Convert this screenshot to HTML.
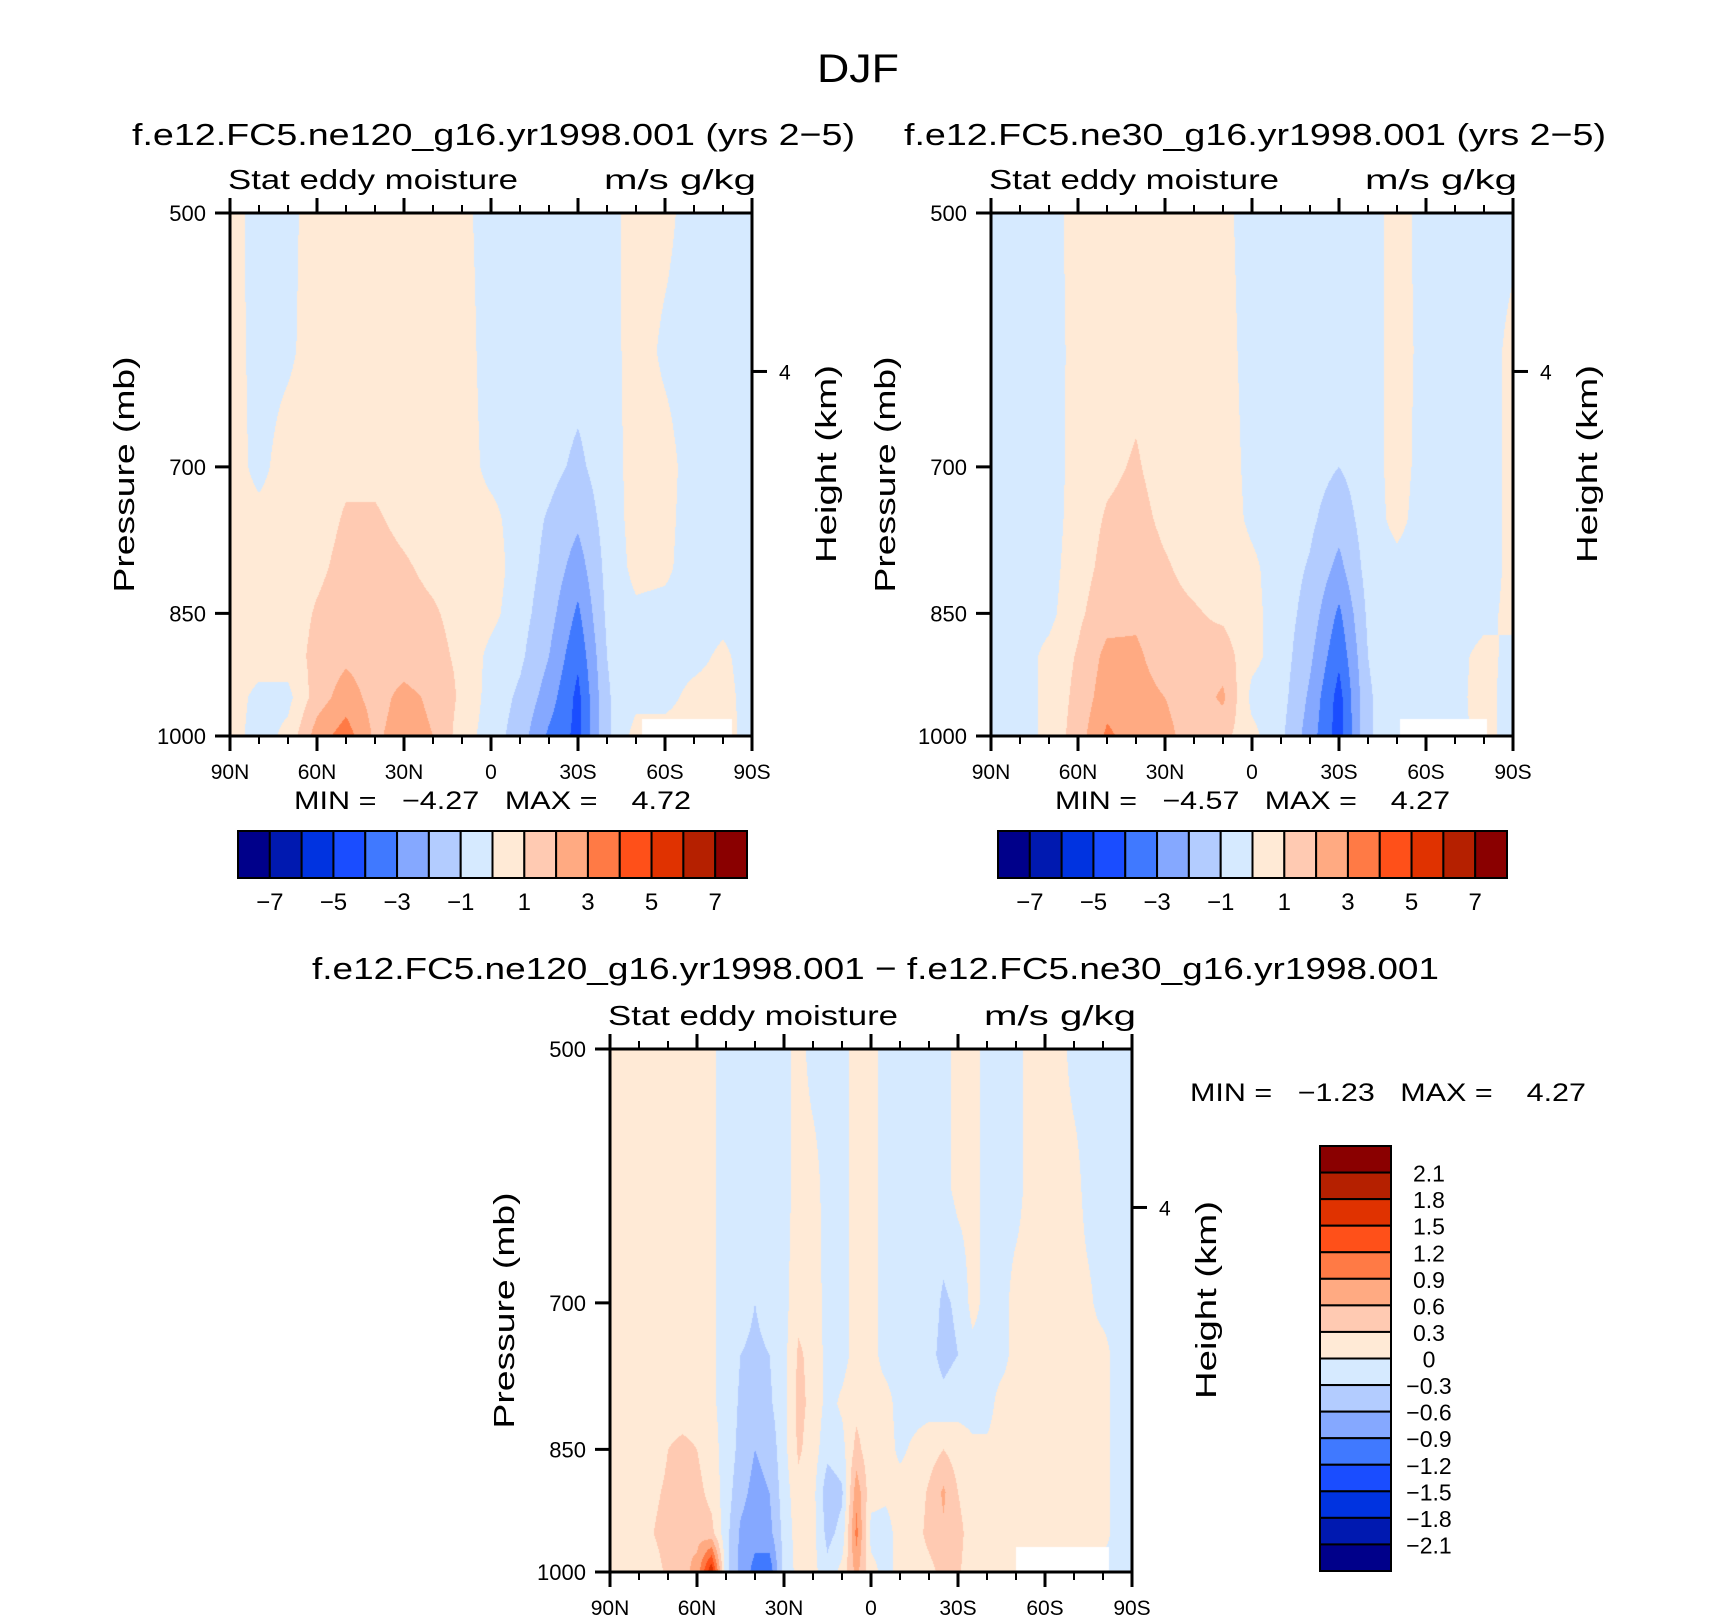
<!DOCTYPE html>
<html><head><meta charset="utf-8">
<style>
html,body{margin:0;padding:0;background:#fff;}
#wrap{position:relative;width:1710px;height:1616px;overflow:hidden;background:#fff;font-family:"Liberation Sans",sans-serif;}
canvas{position:absolute;}
svg{position:absolute;left:0;top:0;}
text{font-family:"Liberation Sans",sans-serif;fill:#000;white-space:pre;}
</style></head>
<body>
<div id="wrap">
<canvas id="c1"></canvas>
<canvas id="c2"></canvas>
<canvas id="c3"></canvas>
<svg id="svg" width="1710" height="1616"></svg>
</div>
<script>
// ---------- data ----------
const pressureLevels = [1000,950,900,850,800,750,700,600,500];
const lats10 = [90,80,70,60,50,40,30,20,10,0,-10,-20,-30,-40,-50,-60,-70,-80,-90];
const lats5 = [90,85,80,75,70,65,60,55,50,45,40,35,30,25,20,15,10,5,0,-5,-10,-15,-20,-25,-30,-35,-40,-45,-50,-55,-60,-65,-70,-75,-80,-85,-90];
// each column: values at pressureLevels (1000 -> 500)
const ne120Values = [
 [0.5,0.5,0.5,0.5,0.5,0.5,0.5,0.5,0.5],
 [-0.5,-0.3,0.5,0.5,0.4,0.3,-0.3,-0.4,-0.5],
 [0.3,-0.3,0.5,0.5,0.5,0.5,0.5,-0.2,-0.3],
 [2.5,1.5,1.3,1.1,0.8,0.6,0.5,0.5,0.5],
 [3.5,2.5,1.8,1.5,1.3,1.1,0.8,0.5,0.5],
 [1.8,1.6,1.5,1.4,1.3,1.1,0.8,0.5,0.5],
 [2.5,2.3,1.5,1.3,1.1,0.8,0.6,0.5,0.5],
 [2.0,1.8,1.3,1.1,0.8,0.6,0.5,0.5,0.5],
 [0.5,0.8,0.8,0.7,0.6,0.5,0.5,0.5,0.3],
 [-0.5,-0.4,-0.3,0.3,0.5,0.3,-0.3,-0.5,-0.5],
 [-1.5,-1.2,-0.8,-0.6,-0.5,-0.5,-0.5,-0.5,-0.5],
 [-3.2,-2.5,-2.0,-1.6,-1.3,-1.1,-0.7,-0.5,-0.5],
 [-4.3,-4.3,-3.8,-3.2,-2.5,-1.8,-1.2,-0.6,-0.5],
 [-1.2,-1.1,-1.0,-0.8,-0.7,-0.6,-0.5,-0.5,-0.5],
 [0.4,-0.3,-0.4,-0.2,0.3,0.4,0.4,0.5,0.5],
 [0.4,-0.3,-0.4,-0.3,0.2,0.3,0.4,-0.2,0.3],
 [0.4,0.3,-0.3,-0.5,-0.5,-0.5,-0.5,-0.5,-0.5],
 [0.5,0.4,0.2,-0.3,-0.5,-0.5,-0.5,-0.5,-0.5],
 [-0.5,-0.5,-0.5,-0.5,-0.5,-0.5,-0.5,-0.5,-0.5]
];
const ne30Values = [
 [-0.5,-0.5,-0.5,-0.5,-0.5,-0.5,-0.5,-0.5,-0.5],
 [-0.5,-0.5,-0.5,-0.5,-0.5,-0.5,-0.5,-0.5,-0.5],
 [0.3,0.3,0.3,-0.3,-0.4,-0.5,-0.5,-0.4,-0.3],
 [1.5,1.3,1.1,0.8,0.6,0.5,0.4,0.3,0.3],
 [3.2,2.6,2.3,1.6,1.3,1.1,0.8,0.5,0.5],
 [2.5,2.4,2.2,1.8,1.5,1.3,1.1,0.7,0.5],
 [2.3,2.0,1.5,1.3,1.1,0.8,0.6,0.5,0.5],
 [1.5,1.4,1.3,1.1,0.7,0.6,0.5,0.5,0.5],
 [1.3,2.2,1.5,0.8,0.6,0.5,0.5,0.4,0.3],
 [0.3,-0.3,0.3,0.3,0.2,-0.2,-0.3,-0.4,-0.5],
 [-0.8,-0.6,-0.5,-0.5,-0.5,-0.5,-0.5,-0.5,-0.5],
 [-2.5,-2.2,-1.8,-1.4,-1.1,-0.8,-0.6,-0.5,-0.5],
 [-4.5,-4.4,-3.8,-3.2,-2.3,-1.6,-1.0,-0.5,-0.5],
 [-1.1,-1.1,-1.0,-0.8,-0.6,-0.5,-0.5,-0.5,-0.5],
 [-0.5,-0.5,-0.5,-0.4,-0.3,0.3,0.4,0.4,0.4],
 [-0.5,-0.5,-0.5,-0.5,-0.5,-0.5,-0.4,-0.3,-0.4],
 [-0.4,-0.3,-0.3,-0.5,-0.5,-0.5,-0.5,-0.5,-0.5],
 [0.4,0.4,0.3,-0.3,-0.5,-0.5,-0.5,-0.5,-0.5],
 [-0.5,-0.5,-0.3,0.3,0.3,0.3,0.3,0.3,-0.3]
];
const diffValues = [
 [0.1,0.1,0.1,0.1,0.1,0.1,0.1,0.1,0.1],
 [0.1,0.1,0.1,0.1,0.1,0.1,0.1,0.1,0.1],
 [0.1,0.15,0.15,0.1,0.1,0.1,0.1,0.1,0.1],
 [0.2,0.3,0.25,0.15,0.1,0.1,0.1,0.1,0.1],
 [0.35,0.4,0.35,0.3,0.2,0.1,0.1,0.1,0.1],
 [0.5,0.6,0.45,0.35,0.2,0.1,0.1,0.1,0.1],
 [0.7,0.5,0.4,0.3,0.2,0.1,0.1,0.1,0.1],
 [1.8,0.4,0.2,0.1,0.05,0.05,0.05,0.05,0.05],
 [-0.2,-0.2,-0.15,-0.1,-0.1,-0.1,-0.1,-0.1,-0.1],
 [-0.7,-0.65,-0.5,-0.4,-0.35,-0.3,-0.2,-0.1,-0.1],
 [-1.0,-0.8,-0.7,-0.6,-0.45,-0.35,-0.3,-0.2,-0.2],
 [-1.1,-0.7,-0.6,-0.5,-0.35,-0.3,-0.2,-0.1,-0.2],
 [-0.2,-0.2,-0.15,-0.1,-0.1,-0.1,-0.1,-0.1,-0.1],
 [0.1,0.15,0.2,0.35,0.4,0.35,0.2,0.1,0.1],
 [0.1,0.1,0.1,0.15,0.2,0.2,0.15,0.1,-0.1],
 [-0.2,-0.4,-0.5,-0.2,-0.1,-0.1,-0.1,-0.1,-0.1],
 [0.1,-0.2,-0.35,-0.1,0.05,-0.1,-0.1,-0.1,-0.1],
 [0.7,1.0,0.8,0.4,0.2,0.1,0.1,0.1,0.1],
 [0.1,-0.1,0.1,0.1,0.1,0.1,0.1,0.1,0.1],
 [-0.1,-0.1,0.05,0.1,0.1,-0.1,-0.1,-0.1,-0.1],
 [0.1,0.1,0.1,-0.05,-0.1,-0.1,-0.1,-0.1,-0.1],
 [0.1,0.15,0.1,0.05,-0.1,-0.1,-0.1,-0.1,-0.1],
 [0.2,0.4,0.35,0.15,-0.1,-0.2,-0.15,-0.1,-0.1],
 [0.4,0.55,0.65,0.3,-0.2,-0.4,-0.35,-0.1,-0.1],
 [0.35,0.4,0.3,0.15,-0.1,-0.3,-0.25,0.1,0.1],
 [0.1,0.15,0.1,0.05,-0.1,-0.1,0.1,0.1,0.1],
 [0.1,0.1,0.1,0.05,-0.1,-0.1,-0.1,-0.1,-0.1],
 [0.1,0.1,0.1,0.1,0.1,-0.1,-0.1,-0.1,-0.1],
 [0.1,0.1,0.1,0.1,0.1,0.1,0.1,-0.1,-0.1],
 [0.1,0.1,0.1,0.1,0.1,0.1,0.1,0.1,0.1],
 [0.1,0.1,0.1,0.1,0.1,0.1,0.1,0.1,0.1],
 [0.1,0.1,0.1,0.1,0.1,0.1,0.1,0.1,0.1],
 [0.4,0.2,0.1,0.1,0.1,0.1,0.1,0.1,-0.1],
 [0.3,0.15,0.1,0.1,0.1,0.1,0.05,-0.1,-0.1],
 [-0.1,0.1,0.1,0.1,0.1,0.1,-0.1,-0.1,-0.1],
 [-0.1,-0.1,-0.1,-0.1,-0.1,-0.1,-0.1,-0.1,-0.1],
 [-0.1,-0.1,-0.1,-0.1,-0.1,-0.1,-0.1,-0.1,-0.1]
];
const contourLevelsTop = [-7,-6,-5,-4,-3,-2,-1,0,1,2,3,4,5,6,7];
const contourLevelsDiff = [-2.1,-1.8,-1.5,-1.2,-0.9,-0.6,-0.3,0,0.3,0.6,0.9,1.2,1.5,1.8,2.1];
const cbarLabelsTop = ["−7","−5","−3","−1","1","3","5","7"];
const cbarLabelsDiff = ["2.1","1.8","1.5","1.2","0.9","0.6","0.3","0","−0.3","−0.6","−0.9","−1.2","−1.5","−1.8","−2.1"];
const xTickLabels = ["90N","60N","30N","0","30S","60S","90S"];
const xTickLats = [90,60,30,0,-30,-60,-90];
const pTicks = [500,700,850,1000];
const missing1 = [-52,-83,978];
const missing2 = [-51,-81,978];
const missing3 = [-50,-82,968];
const palette = ["#00008a","#0019b0","#0033e0","#1a4dff","#4079ff","#85a8ff","#b3ccff","#d6eaff","#ffead6","#ffcab2","#ffaa82","#ff7a45","#ff5019","#e03200","#b52000","#8a0000"];

// ---------- helpers ----------
const svg = document.getElementById('svg');
const NS = 'http://www.w3.org/2000/svg';
function mk(tag, attrs, parent){ const e=document.createElementNS(NS,tag); for(const k in attrs) e.setAttribute(k,attrs[k]); (parent||svg).appendChild(e); return e; }
function txt(s, x, y, size, anchor, name, extra){
  const e = mk('text', Object.assign({x:x,y:y,'font-size':size,'text-anchor':anchor||'start'}, extra||{}));
  e.textContent = s;
  
  
  return e;
}
function hexToRgb(h){ return [parseInt(h.substr(1,2),16),parseInt(h.substr(3,2),16),parseInt(h.substr(5,2),16)]; }
const palRGB = palette.map(hexToRgb);
const lnP = pressureLevels.map(p=>Math.log(p));
const LN500 = Math.log(500), LN1000 = Math.log(1000);

function makePanel(cfg){
  const {cid,x0,y0,W,H,lats,vals,levels,missing} = cfg;
  const xOf = lat => x0 + (90-lat)/180*W;
  const yOf = p => y0 + (Math.log(p)-LN500)/(LN1000-LN500)*H;
  const cv = document.getElementById(cid);
  cv.width=W; cv.height=H; cv.style.left=x0+'px'; cv.style.top=y0+'px';
  const ctx = cv.getContext('2d');
  const img = ctx.createImageData(W,H);
  const nc = lats.length;
  for(let py=0; py<H; py++){
    const lp = LN500 + (py+0.5)/H*(LN1000-LN500);
    let i=0; while(i<lnP.length-2 && lp < lnP[i+1]) i++;
    let t = (lnP[i]-lp)/(lnP[i]-lnP[i+1]); t=Math.max(0,Math.min(1,t));
    const pp = Math.exp(lp);
    for(let px=0; px<W; px++){
      const lat = 90 - (px+0.5)/W*180;
      let j=0; while(j<nc-2 && lat < lats[j+1]) j++;
      let s = (lats[j]-lat)/(lats[j]-lats[j+1]); s=Math.max(0,Math.min(1,s));
      const v = (vals[j][i]*(1-t)+vals[j][i+1]*t)*(1-s) + (vals[j+1][i]*(1-t)+vals[j+1][i+1]*t)*s;
      let k=0; while(k<levels.length && v>=levels[k]) k++;
      let c = palRGB[k];
      const o=(py*W+px)*4;
      if(lat<=missing[0] && lat>=missing[1] && pp>=missing[2]) c=[255,255,255];
      img.data[o]=c[0]; img.data[o+1]=c[1]; img.data[o+2]=c[2]; img.data[o+3]=255;
    }
  }
  ctx.putImageData(img,0,0);
  const g = mk('g',{});
  
  
  const fr = mk('rect',{x:x0,y:y0,width:W,height:H,fill:'none',stroke:'#000','stroke-width':3},g);
  
  
  for(let lat=90; lat>=-90; lat-=10){
    const major = lat%30===0; const L = major?15:8; const x=xOf(lat);
    mk('line',{x1:x,y1:y0+H,x2:x,y2:y0+H+L,stroke:'#000','stroke-width':major?3:2},g);
    mk('line',{x1:x,y1:y0,x2:x,y2:y0-L,stroke:'#000','stroke-width':major?3:2},g);
  }
  xTickLats.forEach((lat,i)=>{
    txt(xTickLabels[i], xOf(lat), y0+H+43, 21, 'middle', 'x-tick-label');
  });
  pTicks.forEach(p=>{
    const y=yOf(p);
    mk('line',{x1:x0,y1:y,x2:x0-15,y2:y,stroke:'#000','stroke-width':3},g);
    txt(String(p), x0-24, y+8, 22, 'end', 'y-tick-label');
  });
  const hy = y0 + 0.303*H;
  mk('line',{x1:x0+W,y1:hy,x2:x0+W+15,y2:hy,stroke:'#000','stroke-width':3},g);
  txt('4', x0+W+27, hy+8, 21, 'start', 'height-tick-label');
  txt('Stat eddy moisture', x0-2, y0-24, 28, 'start', 'variable-label', {textLength:290,lengthAdjust:'spacingAndGlyphs'});
  txt('m/s g/kg', x0+W+4, y0-24, 28, 'end', 'units-label', {textLength:152,lengthAdjust:'spacingAndGlyphs'});
  txt('Pressure (mb)', 0, 0, 29, 'middle', 'y-axis-title', {transform:`translate(${x0-96},${y0+H/2}) rotate(-90)`,textLength:236,lengthAdjust:'spacingAndGlyphs'});
  txt('Height (km)', 0, 0, 29, 'middle', 'y2-axis-title', {transform:`translate(${x0+W+84},${y0+0.48*H}) rotate(-90)`,textLength:198,lengthAdjust:'spacingAndGlyphs'});
}

function hbar(x0,y0,W,H){
  const bw=W/16;
  palette.forEach((c,i)=>{
    const r=mk('rect',{x:x0+i*bw,y:y0,width:bw,height:H,fill:c,stroke:'#000','stroke-width':2});
    
    
  });
  cbarLabelsTop.forEach((s,i)=>{
    const x = x0 + (1+2*i)*bw;
    txt(s, x, y0+H+32, 24, 'middle', 'colorbar-label');
  });
}
function vbar(x0,y0,W,H){
  const bh=H/16;
  for(let i=0;i<16;i++){
    const r=mk('rect',{x:x0,y:y0+i*bh,width:W,height:bh,fill:palette[15-i],stroke:'#000','stroke-width':2});
    
    
  }
  cbarLabelsDiff.forEach((s,i)=>{
    txt(s, x0+W+38, y0+(i+1)*bh+9, 23, 'middle', 'colorbar-label');
  });
}

// ---------- build ----------
txt('DJF', 858, 82, 40, 'middle', 'figure-title', {textLength:82,lengthAdjust:'spacingAndGlyphs'});
txt('f.e12.FC5.ne120_g16.yr1998.001 (yrs 2−5)', 132, 145, 31, 'start', 'panel-title-ne120', {textLength:723,lengthAdjust:'spacingAndGlyphs'});
txt('f.e12.FC5.ne30_g16.yr1998.001 (yrs 2−5)', 904, 145, 31, 'start', 'panel-title-ne30', {textLength:702,lengthAdjust:'spacingAndGlyphs'});
txt('f.e12.FC5.ne120_g16.yr1998.001 − f.e12.FC5.ne30_g16.yr1998.001', 312, 979, 31, 'start', 'panel-title-diff', {textLength:1127,lengthAdjust:'spacingAndGlyphs'});

makePanel({name:'ne120',cid:'c1',x0:230,y0:213,W:522,H:523,lats:lats10,vals:ne120Values,levels:contourLevelsTop,missing:missing1});
makePanel({name:'ne30',cid:'c2',x0:991,y0:213,W:522,H:523,lats:lats10,vals:ne30Values,levels:contourLevelsTop,missing:missing2});
makePanel({name:'diff',cid:'c3',x0:610,y0:1049,W:522,H:523,lats:lats5,vals:diffValues,levels:contourLevelsDiff,missing:missing3});

txt('MIN =   −4.27   MAX =    4.72', 294, 809, 25, 'start', 'min-max-ne120', {textLength:397,lengthAdjust:'spacingAndGlyphs'});
txt('MIN =   −4.57   MAX =    4.27', 1055, 809, 25, 'start', 'min-max-ne30', {textLength:395,lengthAdjust:'spacingAndGlyphs'});
txt('MIN =   −1.23   MAX =    4.27', 1190, 1101, 25, 'start', 'min-max-diff', {textLength:396,lengthAdjust:'spacingAndGlyphs'});

hbar(238,831,509,47);
hbar(998,831,509,47);
vbar(1320,1146,71,425);
</script>
</body></html>
